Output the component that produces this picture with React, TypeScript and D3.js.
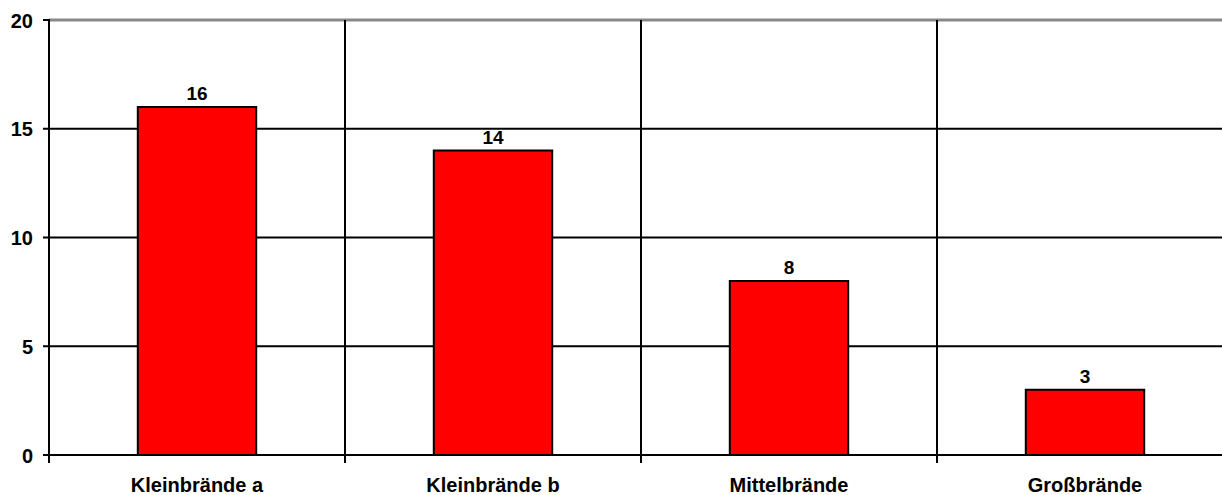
import React from "react";
import * as d3 from "d3";

const categories = ["Kleinbrände a", "Kleinbrände b", "Mittelbrände", "Großbrände"];
const values = [16, 14, 8, 3];
const yTicks = [0, 5, 10, 15, 20];

export default function App() {
  const W = 1222, H = 495;
  const left = 49, top = 20, bottom = 455;
  const bandW = 296;
  const x = d3.scaleBand<string>().domain(categories).range([left, left + bandW * categories.length]).paddingInner(0.6).paddingOuter(0.3);
  const y = d3.scaleLinear().domain([0, 20]).range([bottom, top]);
  const font = "'Liberation Sans', Arial, sans-serif";
  const seps = categories.map((_, i) => left + bandW * (i + 1));
  return (
    <svg width={W} height={H} style={{ position: "absolute", left: 0, top: 0 }} fontFamily={font}>
      <rect x={0} y={0} width={W} height={H} fill="#fff" />
      {yTicks.filter(t => t > 0 && t < 20).map(t => (
        <line key={t} x1={left - 6} x2={W} y1={y(t)} y2={y(t)} stroke="#000" strokeWidth={2} />
      ))}
      <line x1={left - 6} x2={left} y1={y(20)} y2={y(20)} stroke="#000" strokeWidth={2} />
      <line x1={left} x2={W} y1={y(20)} y2={y(20)} stroke="#888" strokeWidth={3} />
      {seps.map((s, i) => (
        <line key={i} x1={s} x2={s} y1={top} y2={bottom + 8} stroke="#000" strokeWidth={2} />
      ))}
      {categories.map((c, i) => (
        <g key={c}>
          <rect x={x(c)} y={y(values[i])} width={x.bandwidth()} height={bottom - y(values[i])} fill="#ff0000" stroke="#000" strokeWidth={2} />
          <text x={x(c)! + x.bandwidth() / 2} y={y(values[i]) - 7} textAnchor="middle" fontSize={19} fontWeight="bold">{values[i]}</text>
          <text x={x(c)! + x.bandwidth() / 2} y={492} textAnchor="middle" fontSize={20} fontWeight="bold">{c}</text>
        </g>
      ))}
      <line x1={left} x2={left} y1={top - 1} y2={bottom + 8} stroke="#000" strokeWidth={2} />
      <line x1={left - 6} x2={W} y1={bottom} y2={bottom} stroke="#000" strokeWidth={2} />
      {yTicks.map(t => (
        <text key={t} x={33} y={y(t) + 7.5} textAnchor="end" fontSize={20} fontWeight="bold">{t}</text>
      ))}
    </svg>
  );
}
